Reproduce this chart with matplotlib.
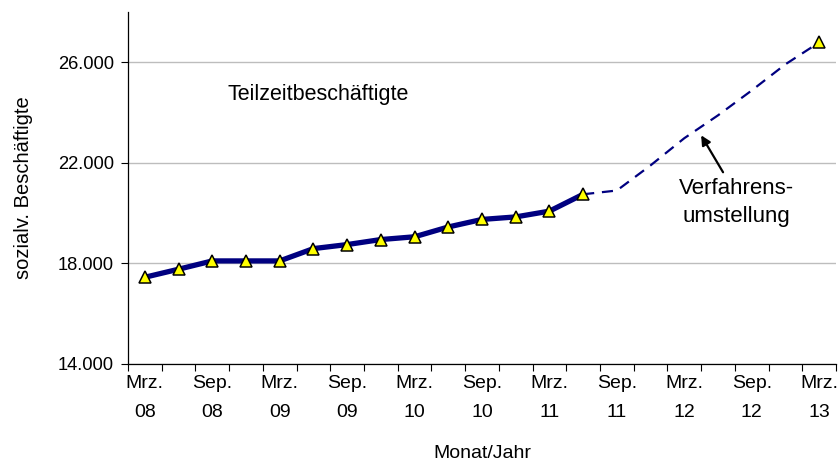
import matplotlib
matplotlib.use("Agg")
import matplotlib.pyplot as plt
import numpy as np

plt.rcParams['font.family'] = ['Liberation Sans', 'DejaVu Sans']

quarters = ["Mrz. 08", "Jun. 08", "Sep. 08", "Dez. 08", "Mrz. 09", "Jun. 09", "Sep. 09",
            "Dez. 09", "Mrz. 10", "Jun. 10", "Sep. 10", "Dez. 10", "Mrz. 11", "Jun. 11",
            "Sep. 11", "Dez. 11", "Mrz. 12", "Jun. 12", "Sep. 12", "Dez. 12", "Mrz. 13"]
solid_values = [17450, 17770, 18100, 18100, 18100, 18590, 18750, 18950, 19060,
                19450, 19750, 19850, 20080, 20750]
dashed_values = [20750, 20900, 21900, 22980, 23890, 24880, 25920, 26790]
tick_labels = ["Mrz.\n08", "Sep.\n08", "Mrz.\n09", "Sep.\n09", "Mrz.\n10", "Sep.\n10",
               "Mrz.\n11", "Sep.\n11", "Mrz.\n12", "Sep.\n12", "Mrz.\n13"]
y_ticks = [14000, 18000, 22000, 26000]

fig = plt.figure(figsize=(8.39, 4.63), dpi=100)
ax = fig.add_axes([128/839, 1-364/463, (836-128)/839, (364-12)/463])

x_all = np.arange(len(quarters))
x_solid = x_all[:len(solid_values)]
x_dash = x_all[len(solid_values)-1:len(solid_values)-1+len(dashed_values)]

ax.plot(x_dash, dashed_values, color='#000080', lw=1.6, ls=(0, (5, 3.5)), zorder=3)
ax.plot(x_solid, solid_values, color='#000080', lw=3.8, solid_capstyle='butt', zorder=4)
ax.plot(x_solid, solid_values, ls='none', marker='^', ms=8.5, mfc='#FFFF00', mec='black',
        mew=1.1, zorder=5)
ax.plot([x_dash[-1]], [dashed_values[-1]], ls='none', marker='^', ms=8.5, mfc='#FFFF00',
        mec='black', mew=1.1, zorder=5)

ax.set_xlim(-0.5, len(quarters)-0.5)
ax.set_ylim(14000, 28000)
ax.set_yticks(y_ticks)
ax.set_yticklabels([f"{v:,}".replace(",", ".") for v in y_ticks], fontsize=13.2)
ax.set_xticks(np.arange(-0.5, len(quarters)), minor=True)
ax.set_xticks(x_all[::2])
ax.set_xticklabels(tick_labels, fontsize=14, linespacing=1.95)
ax.tick_params(axis='x', which='major', length=0, pad=8)
ax.tick_params(axis='x', which='minor', length=5, width=0.8, direction='out')
ax.tick_params(axis='y', length=5, width=0.8, direction='out', pad=5)

ax.grid(axis='y', color='#BDBDBD', lw=1)
ax.set_axisbelow(True)
for s in ['top', 'right']:
    ax.spines[s].set_visible(False)
for s in ['left', 'bottom']:
    ax.spines[s].set_linewidth(0.9)

ax.set_ylabel("sozialv. Beschäftigte", fontsize=14.5, labelpad=18)
ax.set_xlabel("Monat/Jahr", fontsize=14, labelpad=17)

ax.text(2.45, 24700, "Teilzeitbeschäftigte", fontsize=15.5, ha='left', va='center')
ax.text(17.54, 21400, "Verfahrens-\numstellung", fontsize=16, ha='center', va='top',
        linespacing=1.45)
ax.annotate("", xy=(16.5, 23096), xytext=(17.15, 21626),
            arrowprops=dict(arrowstyle='-|>', color='black', lw=1.6, mutation_scale=14,
                            shrinkA=0, shrinkB=0))

fig.savefig("out.png", dpi=100)
